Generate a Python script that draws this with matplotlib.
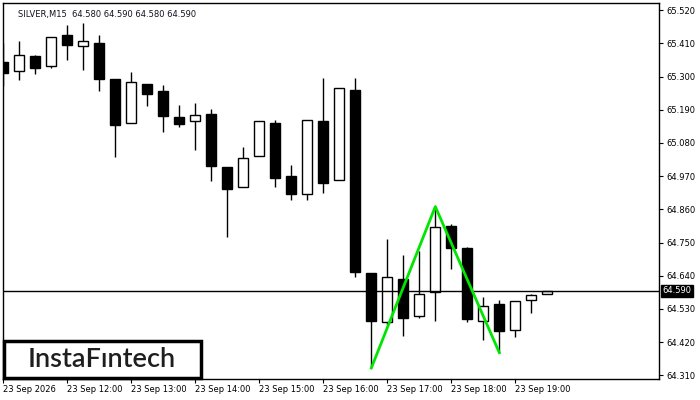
#!/usr/bin/env python3
"""SILVER M15 candlestick chart with a pattern overlay"""

import numpy as np
import matplotlib; matplotlib.use('Agg')
import matplotlib.pyplot as plt
from matplotlib.patches import Rectangle

##########################################################
opens = [65.347, 65.319, 65.367, 65.336, 65.438, 65.400, 65.410, 65.292, 65.145,
         65.275, 65.252, 65.166, 65.152, 65.176, 65.000, 64.935, 65.036, 65.146,
         64.970, 64.910, 65.153, 64.956, 65.255, 64.649, 64.488, 64.629, 64.508,
         64.585, 64.805, 64.731, 64.491, 64.545, 64.461, 64.559, 64.580]
highs = [65.410, 65.418, 65.371, 65.430, 65.471, 65.477, 65.438, 65.292, 65.315,
         65.275, 65.272, 65.206, 65.212, 65.192, 65.000, 65.067, 65.153, 65.156,
         65.007, 65.155, 65.295, 65.261, 65.295, 64.649, 64.762, 64.709, 64.723,
         64.869, 64.810, 64.734, 64.569, 64.560, 64.555, 64.578, 64.590]
lows = [65.270, 65.289, 65.309, 65.329, 65.355, 65.322, 65.253, 65.034, 65.145,
        65.202, 65.117, 65.134, 65.057, 64.954, 64.769, 64.935, 65.036, 64.934,
        64.891, 64.891, 64.913, 64.956, 64.637, 64.334, 64.477, 64.441, 64.501,
        64.491, 64.662, 64.488, 64.427, 64.385, 64.438, 64.517, 64.580]
closes = [65.313, 65.370, 65.329, 65.430, 65.406, 65.417, 65.293, 65.140, 65.281,
          65.243, 65.170, 65.144, 65.172, 65.005, 64.928, 65.030, 65.153, 64.965,
          64.912, 65.155, 64.948, 65.261, 64.653, 64.491, 64.635, 64.500, 64.578,
          64.800, 64.733, 64.498, 64.539, 64.458, 64.555, 64.575, 64.590]

xtick_idx = [0, 4, 8, 12, 16, 20, 24, 28, 32]
xtick_labels = ['23 Sep 2026', '23 Sep 12:00', '23 Sep 13:00', '23 Sep 14:00',
                '23 Sep 15:00', '23 Sep 16:00', '23 Sep 17:00', '23 Sep 18:00',
                '23 Sep 19:00']
yticks = [64.310, 64.420, 64.530, 64.640, 64.750, 64.860, 64.970, 65.080,
          65.190, 65.300, 65.410, 65.520]

pattern_idx = [23, 27, 31]
pattern_val = [64.334, 64.869, 64.385]
last_price = 64.590
title = 'SILVER,M15  64.580 64.590 64.580 64.590'

##########################################################
def main():
    fig = plt.figure(figsize=(7, 4), dpi=100)
    ax = fig.add_axes([2.7/700, 21/400, 656.6/700, 376.3/400])

    o = np.array(opens); c = np.array(closes)
    h = np.array(highs); l = np.array(lows)
    x = np.arange(len(o))
    up = c >= o

    ax.vlines(x, l, h, colors='k', linewidth=1, zorder=2)
    bot = np.minimum(o, c)
    hgt = np.abs(c - o)
    ax.bar(x[up], hgt[up], bottom=bot[up], width=0.62, color='white',
           edgecolor='k', linewidth=1, zorder=3)
    ax.bar(x[~up], hgt[~up], bottom=bot[~up], width=0.62, color='k',
           edgecolor='k', linewidth=1, zorder=3)

    ax.axhline(last_price, color='k', linewidth=1, zorder=4)
    ax.plot(pattern_idx, pattern_val, color='#00e600', linewidth=2, zorder=5)

    ax.set_xlim(-0.04, 41.0)
    ax.set_ylim(64.2977, 65.5446)

    ax.yaxis.tick_right()
    ax.set_yticks(yticks)
    ax.set_yticklabels(['%.3f' % v for v in yticks])
    ax.set_xticks(xtick_idx)
    ax.set_xticklabels(xtick_labels, ha='left')
    ax.tick_params(axis='both', labelsize=6, length=3, width=0.8, pad=2,
                   direction='out', colors='k')
    ax.tick_params(axis='x', pad=1)
    for s in ax.spines.values():
        s.set_linewidth(1)

    ax.text(0.0235, 0.98, title, transform=ax.transAxes, fontsize=6,
            va='top', ha='left', color='#111122')

    # current price tag on the axis
    ax.text(1.0045, last_price, '64.590', transform=ax.get_yaxis_transform(),
            fontsize=6, color='white', va='center', ha='left', zorder=10,
            bbox=dict(boxstyle='square,pad=0.15', fc='k', ec='k'), clip_on=False)

    # logo box
    fig.patches.append(Rectangle((3.5/700, 21.8/400), 197/700, 37.5/400,
                                 transform=fig.transFigure, fc='white',
                                 ec='k', lw=2.5, zorder=20))
    fig.text(102/700, 40.5/400, 'InstaF\u0131ntech', fontsize=19.5,
             family=['Lato', 'DejaVu Sans'], weight='semibold', color='#1e1e1e',
             ha='center', va='center', zorder=21)

    fig.savefig('out.png', dpi=100)

##########################################################
if __name__ == "__main__":
    main()
